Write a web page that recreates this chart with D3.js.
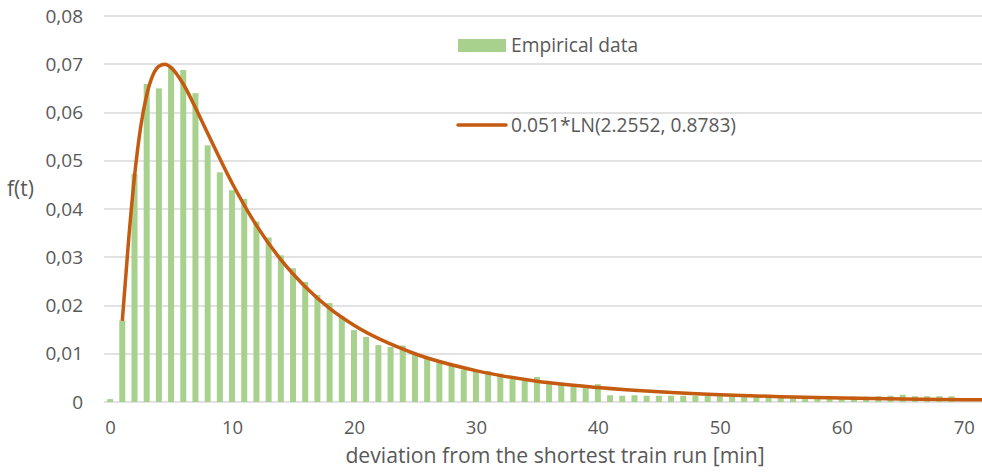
<!DOCTYPE html>
<html>
<head>
<meta charset="utf-8">
<script src="https://cdn.jsdelivr.net/npm/d3@7/dist/d3.min.js"></script>
<style>
  body { margin: 0; background: #fff; }
  svg { display: block; }
  text { font-family: "Open Sans", sans-serif; fill: #595959; }
</style>
</head>
<body>
<div id="chart"></div>
<script>
var width = 982;
var height = 472;

// empirical histogram, one bar per minute (0..69)
var minutes = d3.range(0, 70);
var empirical = [
  0.0006, 0.0169, 0.0473, 0.0659, 0.0650, 0.0695, 0.0688, 0.0640, 0.0532, 0.0476,
  0.0439, 0.0421, 0.0374, 0.0341, 0.0304, 0.0277, 0.0249, 0.0222, 0.0205, 0.0177,
  0.0149, 0.0135, 0.0118, 0.0114, 0.0117, 0.0099, 0.0091, 0.0082, 0.0075, 0.0067,
  0.0066, 0.0064, 0.0059, 0.0049, 0.0044, 0.0052, 0.0040, 0.0040, 0.0033, 0.0030,
  0.0037, 0.0014, 0.0013, 0.0014, 0.0013, 0.0013, 0.0013, 0.0013, 0.0013, 0.0013,
  0.0012, 0.0012, 0.0011, 0.0011, 0.0010, 0.0010, 0.0010, 0.0010, 0.0010, 0.0010,
  0.0010, 0.0011, 0.0011, 0.0012, 0.0013, 0.0015, 0.0012, 0.0012, 0.0012, 0.0012
];

// fitted curve
var fitT = [1, 1.5, 2, 2.5, 3, 3.5, 4, 4.5, 5, 6, 7, 8, 10, 12, 14, 16, 18, 20,
            25, 30, 35, 40, 45, 50, 55, 60, 65, 70, 71.5];
var fitF = [0.0168, 0.0330, 0.0467, 0.0569, 0.0636, 0.0677, 0.0696, 0.0700, 0.0693,
            0.0659, 0.0610, 0.0557, 0.0454, 0.0366, 0.0295, 0.0239, 0.0194, 0.0159,
            0.0100, 0.0065, 0.0043, 0.0030, 0.0021, 0.0015, 0.0011, 0.00085, 0.00064,
            0.00049, 0.00046];

var yTicks = [0, 0.01, 0.02, 0.03, 0.04, 0.05, 0.06, 0.07, 0.08];
var xTicks = [0, 10, 20, 30, 40, 50, 60, 70];

var plotLeft = 104, plotRight = 982, plotTop = 16, plotBottom = 402;

var svg = d3.select("#chart").append("svg")
  .attr("width", width)
  .attr("height", height);

var x = d3.scaleLinear().domain([-0.5, 71.5]).range([plotLeft, plotRight]);
var y = d3.scaleLinear().domain([0, 0.08]).range([plotBottom, plotTop]);

// gridlines
svg.append("g")
  .selectAll("line")
  .data(yTicks)
  .enter()
  .append("line")
  .attr("x1", plotLeft)
  .attr("x2", plotRight)
  .attr("y1", function(d) { return Math.round(y(d)); })
  .attr("y2", function(d) { return Math.round(y(d)); })
  .attr("stroke", "#d9d9d9")
  .attr("stroke-width", 1.4);

// y tick labels
var yAxis = d3.axisLeft(y)
  .tickValues(yTicks)
  .tickSize(0)
  .tickPadding(0)
  .tickFormat(function(d) { return d === 0 ? "0" : d.toFixed(2).replace(".", ","); });

var gy = svg.append("g")
  .attr("transform", "translate(83,0)")
  .call(yAxis);
gy.select(".domain").remove();
gy.selectAll("text")
  .attr("font-size", "19px")
  .attr("font-family", "Open Sans, sans-serif")
  .attr("fill", "#595959");

// x tick labels
var xAxis = d3.axisBottom(x)
  .tickValues(xTicks)
  .tickSize(0)
  .tickPadding(0)
  .tickFormat(d3.format("d"));

var gx = svg.append("g")
  .attr("transform", "translate(0,421)")
  .call(xAxis);
gx.select(".domain").remove();
gx.selectAll("text")
  .attr("font-size", "18.5px")
  .attr("font-family", "Open Sans, sans-serif")
  .attr("fill", "#595959");

// bars
var barW = 6;
svg.append("g")
  .selectAll("rect")
  .data(empirical)
  .enter()
  .append("rect")
  .attr("x", function(d, i) { return x(minutes[i]) - barW / 2; })
  .attr("y", function(d) { return y(d); })
  .attr("width", barW)
  .attr("height", function(d) { return plotBottom - y(d); })
  .attr("fill", "#a9d18e");

// fitted curve
var line = d3.line()
  .x(function(d) { return x(d[0]); })
  .y(function(d) { return y(d[1]); })
  .curve(d3.curveMonotoneX);

svg.append("path")
  .datum(d3.zip(fitT, fitF))
  .attr("d", line)
  .attr("fill", "none")
  .attr("stroke", "#c55a11")
  .attr("stroke-width", 3.5)
  .attr("stroke-linejoin", "round");

// legend
svg.append("rect")
  .attr("x", 458).attr("y", 39)
  .attr("width", 48).attr("height", 13)
  .attr("fill", "#a9d18e");
svg.append("text")
  .attr("x", 511).attr("y", 52)
  .attr("font-size", "19.2px")
  .text("Empirical data");

svg.append("line")
  .attr("x1", 458).attr("x2", 506)
  .attr("y1", 125).attr("y2", 125)
  .attr("stroke", "#c55a11")
  .attr("stroke-width", 3.5)
  .attr("stroke-linecap", "round");
svg.append("text")
  .attr("x", 511).attr("y", 132)
  .attr("font-size", "19.2px")
  .text("0.051*LN(2.2552, 0.8783)");

// axis titles
svg.append("text")
  .attr("x", 7).attr("y", 196)
  .attr("font-size", "21px")
  .text("f(t)");

svg.append("text")
  .attr("x", 555).attr("y", 463)
  .attr("text-anchor", "middle")
  .attr("font-size", "21.2px")
  .text("deviation from the shortest train run [min]");
</script>
</body>
</html>
